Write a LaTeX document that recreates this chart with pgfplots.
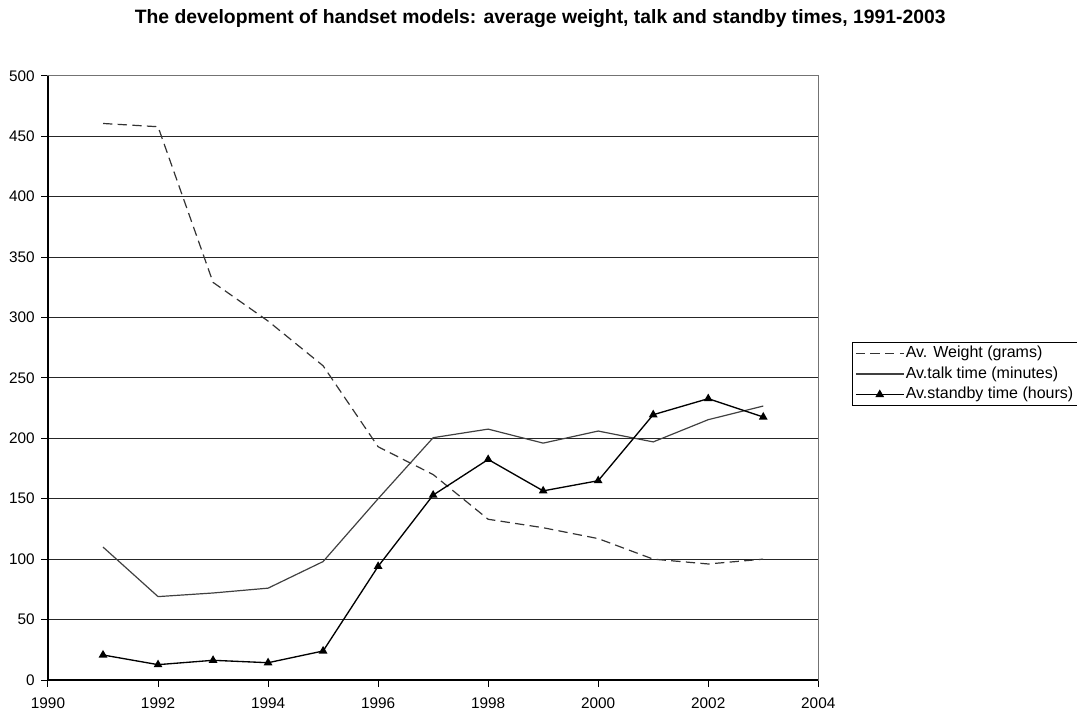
\documentclass[border=0pt]{standalone}
\usepackage{fontspec}
\setmainfont{Liberation Sans}
\usepackage{pgfplots}
\pgfplotsset{compat=1.18}

\begin{document}
\begin{tikzpicture}
\useasboundingbox (-36pt,-22.5pt) rectangle (771.75pt,510pt);
\begin{axis}[
  anchor=south west, at={(0,0)},
  scale only axis, width=577.7pt, height=453.2pt,
  xmin=1990, xmax=2004, ymin=0, ymax=500,
  xtick={1990,1992,...,2004}, ytick={0,50,...,500},
  xtick pos=bottom, ytick pos=left,
  tick align=outside, major tick length=5pt,
  tick style={black, line width=0.75pt},
  ymajorgrids, grid style={black!85, line width=0.75pt},
  axis line style={black!55, line width=0.9pt},
  font=\fontsize{11.5pt}{13pt}\selectfont,
  ticklabel style={font=\fontsize{11.5pt}{13pt}\selectfont},
  /pgf/number format/assume math mode=true,
  /pgf/number format/1000 sep={},
  xticklabel style={yshift=-5pt},
  yticklabel style={xshift=-1.5pt},
  legend style={at={(rel axis cs:1.0437,0.5593)}, anchor=north west,
    draw=black, line width=0.75pt, inner xsep=2pt, inner ysep=0.5pt,
    row sep=0pt,
    font=\fontsize{12pt}{15pt}\selectfont,
    nodes={inner ysep=1.7pt, inner xsep=1pt, text height=9pt, text depth=3pt, anchor=west}},
  legend cell align=left,
  legend image code/.code={\draw[mark repeat=2,mark phase=2,#1] plot coordinates {(0pt,0pt) (18pt,0pt) (36pt,0pt)};},
  after end axis/.code={\draw[black, line width=0.9pt] (rel axis cs:0,1) -- (rel axis cs:0,0) -- (rel axis cs:1,0);},
  clip=false,
]
\addplot[black!80, line width=0.9pt, dash pattern=on 7pt off 4pt] coordinates {
  (1991,460.5) (1992,457.8) (1993,329) (1994,297) (1995,260) (1996,193)
  (1997,170) (1998,133) (1999,126) (2000,117) (2001,100) (2002,96) (2003,100)};
\addlegendentry{Av. Weight (grams)}
\addplot[black!75, line width=0.9pt] coordinates {
  (1991,110) (1992,69) (1993,72) (1994,76) (1995,98) (1996,150)
  (1997,200.5) (1998,207.6) (1999,196) (2000,206) (2001,197) (2002,215.4) (2003,226.7)};
\addlegendentry{Av.talk time (minutes)}
\addplot[black, line width=1pt, mark=triangle*, mark size=2.8pt, mark options={solid}] coordinates {
  (1991,20.7) (1992,12.7) (1993,16.3) (1994,14.3) (1995,24) (1996,94)
  (1997,153) (1998,182.5) (1999,156.5) (2000,164.9) (2001,219.5) (2002,232.8) (2003,217.6)};
\addlegendentry{Av.standby time (hours)}
\node[font=\bfseries\fontsize{14.5pt}{17pt}\selectfont] at (rel axis cs:0.639,1.094)
  {The development of handset models: average weight, talk and standby times, 1991-2003};
\end{axis}
\end{tikzpicture}
\end{document}
